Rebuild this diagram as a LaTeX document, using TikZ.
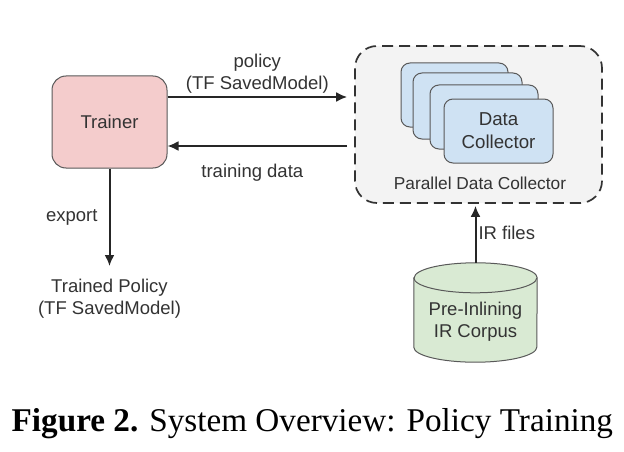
\documentclass[tikz,border=0pt]{standalone}
\usepackage{fontspec}
\setmainfont{Liberation Sans}
\newfontfamily\capfont{Liberation Serif}
\usetikzlibrary{arrows.meta}
\definecolor{txt}{HTML}{333333}
\definecolor{edge}{HTML}{595959}
\definecolor{pinkbox}{HTML}{F4CCCC}
\definecolor{bluebox}{HTML}{CFE2F3}
\definecolor{greenbox}{HTML}{D9EAD3}
\definecolor{grayP}{HTML}{F3F3F3}
\tikzset{
  box/.style={draw=#1,rounded corners=14pt,line width=1pt,inner sep=0pt,align=center,text=txt},
  lbl/.style={inner sep=0pt,align=center,text=txt,font=\fontsize{18.5}{22}\selectfont},
  flow/.style={draw=black!85,line width=2pt,-{Latex[length=11pt,width=10pt]}},
  drum/.style={draw=edge,line width=1pt,fill=greenbox}
}
\begin{document}
\begin{tikzpicture}[x=1pt,y=-1pt]
\useasboundingbox (0,0) rectangle (624,452);
\fill[white] (0,0) rectangle (624,452);
\node[box=edge,fill=pinkbox,minimum width=115pt,minimum height=92pt,font=\fontsize{18.5}{20}\selectfont] (trainer) at (109.5,122) {\raisebox{-1pt}{Trainer}};
\node[box=black!80,fill=grayP,rounded corners=22pt,dash pattern=on 11pt off 6pt,line width=1.7pt,minimum width=247pt,minimum height=157pt] (pool) at (478.5,124.5) {};
\node[box=edge,fill=bluebox,minimum width=107pt,minimum height=64pt,rounded corners=9pt] (c1) at (454.5,95) {};
\node[box=edge,fill=bluebox,minimum width=109pt,minimum height=66pt,rounded corners=9pt] (c2) at (467.5,106) {};
\node[box=edge,fill=bluebox,minimum width=108pt,minimum height=64pt,rounded corners=9pt] (c3) at (484,117) {};
\node[box=edge,fill=bluebox,minimum width=109pt,minimum height=64pt,rounded corners=9pt,font=\fontsize{18.7}{23}\selectfont] (c4) at (498.5,131) {Data\\Collector};
\node[lbl,font=\fontsize{17.3}{18}\selectfont] (plabel) at (480,183) {Parallel Data Collector};
\node[minimum width=123pt,minimum height=99pt,inner sep=0pt] (corpus) at (475.5,312.5) {};
\draw[drum] ([yshift=-15pt]corpus.north west) -- ([yshift=15pt]corpus.south west)
  arc[start angle=180,end angle=360,x radius=61.5pt,y radius=15pt]
  -- ([yshift=-15pt]corpus.north east)
  arc[start angle=0,end angle=180,x radius=61.5pt,y radius=15pt] -- cycle;
\draw[drum,fill=none] ([yshift=-15pt]corpus.north west)
  arc[start angle=180,end angle=360,x radius=61.5pt,y radius=15pt];
\node[lbl] (corpustext) at (475.5,322) {Pre-Inlining\\IR Corpus};
\node[lbl] (trained) at (109.5,299) {Trained Policy\\(TF SavedModel)};
\coordinate (trainedtop) at (109.5,266);
\draw[flow] ([yshift=25pt]trainer.east) -- node[lbl,above=3pt] {policy\\(TF SavedModel)} ([xshift=-7pt,yshift=27.5pt]pool.west);
\draw[flow] ([xshift=-7pt,yshift=-21.5pt]pool.west) -- node[lbl,below=17pt,xshift=-5pt] {training data} ([yshift=-24pt]trainer.east);
\draw[flow] (trainer.south) -- node[lbl,left=11pt] {export} (trainedtop);
\draw[flow] (corpus.north) -- node[lbl,right=2pt,yshift=1pt] {IR files} ([xshift=-3pt,yshift=-2pt]pool.south);
\node[anchor=base west,inner sep=0pt,text=black,font=\fontsize{33.2}{36}\selectfont\capfont] (caption) at (11.5,431) {\textbf{Figure 2.} System Overview: Policy Training};
\end{tikzpicture}
\end{document}
